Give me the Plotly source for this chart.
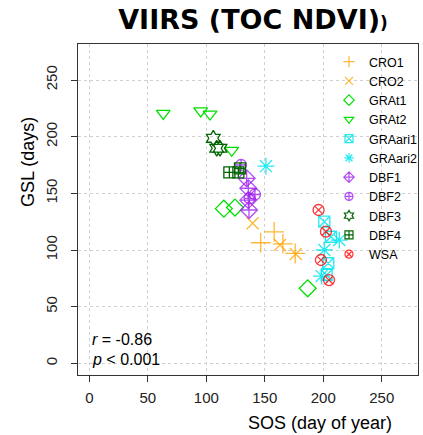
import plotly.graph_objects as go

# ---- data (SOS = day of year, GSL = days) ----
cro1_sos = [146.5, 158, 165.5, 176]
cro1_gsl = [106.4, 116, 105.5, 97]
cro2_sos = [139.6, 163, 176.5]
cro2_gsl = [123.6, 104.4, 96.5]
grat1_sos = [115, 124.5, 186.7]
grat1_gsl = [136.5, 137.5, 66.2]
grat2_sos = [63.2, 95.2, 103.2, 121.7]
grat2_gsl = [220.6, 222.7, 220, 188]
graari1_sos = [200.9, 206.6, 204.3, 202.9]
graari1_gsl = [125, 111.7, 88.3, 78]
graari2_sos = [151, 213.7, 200.9, 198.6]
graari2_gsl = [174, 108.8, 100, 77]
dbf1_sos = [134.5, 135.9, 135.9, 136.5]
dbf1_gsl = [163.3, 154.5, 144, 135.3]
dbf2_sos = [129.7, 141.6, 137]
dbf2_gsl = [175, 149, 145.6]
dbf3_sos = [106, 108.9, 111.7]
dbf3_gsl = [198.6, 189.8, 189.8]
dbf4_sos = [119.7, 127.4, 128.8]
dbf4_gsl = [168.6, 168.6, 172]
wsa_sos = [196, 202.3, 198, 204.9]
wsa_gsl = [135.3, 116.2, 91.2, 73.5]

tick_vals = [0, 50, 100, 150, 200, 250]
r_text = "<i>r</i> = -0.86"
p_text = "<i>p</i> < 0.001"

ORANGE = "rgba(255,165,0,0.8)"
LIME = "#00E000"
CYAN = "rgba(0,230,240,0.85)"
PURPLE = "rgba(160,32,240,0.8)"
DGREEN = "#006400"
RED = "rgba(255,0,0,0.8)"

series = [
    ("CRO1", cro1_sos, cro1_gsl, "cross-thin-open", ORANGE, 14),
    ("CRO2", cro2_sos, cro2_gsl, "x-thin-open", ORANGE, 12),
    ("GRAt1", grat1_sos, grat1_gsl, "diamond-open", LIME, 13),
    ("GRAt2", grat2_sos, grat2_gsl, "triangle-down-open", LIME, 12),
    ("GRAari1", graari1_sos, graari1_gsl, "square-x-open", CYAN, 11),
    ("GRAari2", graari2_sos, graari2_gsl, "asterisk-open", CYAN, 14),
    ("DBF1", dbf1_sos, dbf1_gsl, "diamond-cross-open", PURPLE, 13),
    ("DBF2", dbf2_sos, dbf2_gsl, "circle-cross-open", PURPLE, 11),
    ("DBF3", dbf3_sos, dbf3_gsl, "hexagram-open", DGREEN, 12),
    ("DBF4", dbf4_sos, dbf4_gsl, "square-cross-open", DGREEN, 11),
    ("WSA", wsa_sos, wsa_gsl, "circle-x-open", RED, 11),
]

fig = go.Figure()
for name, xs, ys, sym, col, sz in series:
    fig.add_trace(go.Scatter(
        x=xs, y=ys, mode="markers", name=name, showlegend=False,
        legendgroup=name,
        marker=dict(symbol=sym, size=sz, color=col,
                    line=dict(color=col, width=1.3)),
    ))
# legend keys (smaller symbols, as in the reference legend)
for name, xs, ys, sym, col, sz in series:
    fig.add_trace(go.Scatter(
        x=[None], y=[None], mode="markers", name=name, legendgroup=name,
        marker=dict(symbol=sym, size=8, color=col,
                    line=dict(color=col, width=1.2)),
    ))

axis_common = dict(
    tickvals=tick_vals,
    showgrid=True, gridcolor="#D0D0D0", griddash="dot", gridwidth=1,
    zeroline=False,
    showline=True, mirror=True, linecolor="#333333", linewidth=1.3,
    ticks="outside", ticklen=6, tickcolor="#333333", tickwidth=1,
    tickfont=dict(family="Liberation Sans, Arial", size=15, color="#222222"),
)

fig.update_xaxes(range=[-9.7, 281], ticklabelstandoff=3, **axis_common)
fig.update_yaxes(range=[-10.3, 281.8], tickangle=-90, ticklabelstandoff=8, **axis_common)

fig.update_layout(
    width=423, height=435,
    margin=dict(l=78, r=5, t=44, b=60, autoexpand=False),
    paper_bgcolor="white", plot_bgcolor="white",
    font=dict(family="Liberation Sans, Arial", color="black"),
    title=dict(
        text="VIIRS (TOC NDVI)<span style='font-size:17px'>)</span>",
        font=dict(family="DejaVu Sans", size=27, color="black", weight="bold"),
        x=(253 - 78) / 340, xref="paper", xanchor="center",
        y=1 - 20 / 435, yref="container", yanchor="middle",
    ),
    legend=dict(
        x=(329 - 78) / 340, xanchor="left",
        y=1 - (47 - 44) / 331, yanchor="top",
        bgcolor="rgba(0,0,0,0)", borderwidth=0,
        font=dict(family="Liberation Sans, Arial", size=12.5, color="black"),
        itemsizing="trace", tracegroupgap=0,
    ),
    showlegend=True,
    annotations=[
        dict(text="SOS (day of year)", xref="paper", yref="paper",
             x=(320 - 78) / 340, y=(375 - 423) / 331, xanchor="center", yanchor="middle",
             showarrow=False, font=dict(size=18, color="black")),
        dict(text="GSL (days)", xref="paper", yref="paper", textangle=-90,
             x=(28 - 78) / 340, y=(375 - 162) / 331, xanchor="center", yanchor="middle",
             showarrow=False, font=dict(size=18, color="black")),
        dict(text=r_text, xref="paper", yref="paper",
             x=(90 - 78) / 340, y=(375 - 339) / 331, xanchor="left", yanchor="middle",
             showarrow=False, font=dict(size=16, color="black")),
        dict(text=p_text, xref="paper", yref="paper",
             x=(90 - 78) / 340, y=(375 - 359) / 331, xanchor="left", yanchor="middle",
             showarrow=False, font=dict(size=16, color="black")),
    ],
)

fig.write_html("out.html")
